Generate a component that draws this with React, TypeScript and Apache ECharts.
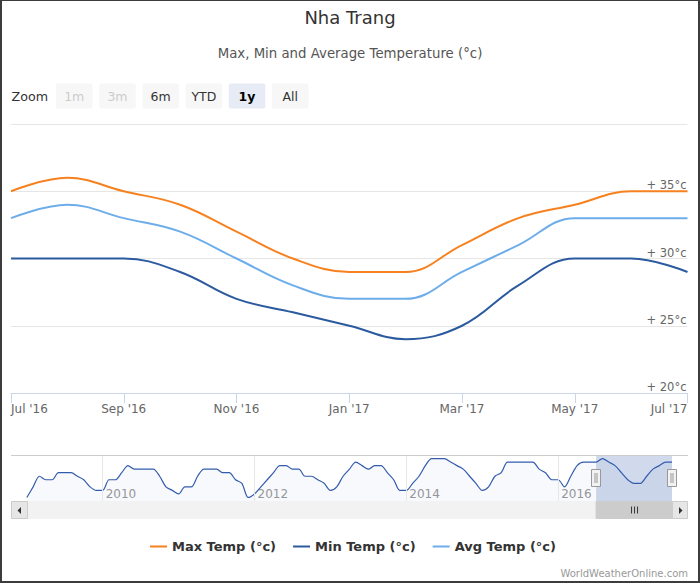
import React, { useEffect, useRef } from 'react';
import * as echarts from 'echarts';

// ---- data ----
const monthLabels = ["Jul '16", "Aug '16", "Sep '16", "Oct '16", "Nov '16", "Dec '16", "Jan '17", "Feb '17", "Mar '17", "Apr '17", "May '17", "Jun '17", "Jul '17"];
const maxTemp = [35, 36, 35, 34, 32, 30, 29, 29, 31, 33, 34, 35, 35];
const minTemp = [30, 30, 30, 29, 27, 26, 25, 24, 25, 28, 30, 30, 29];
const avgTemp = [33, 34, 33, 32, 30, 28, 27, 27, 29, 31, 33, 33, 33];
const yTickValues = [20, 25, 30, 35, 40];

// Navigator (Max Temp history) Jan 2009 .. Jun 2016, monthly
const navHistory = [
  25, 28, 31, 30, 30, 32, 32, 32, 31, 30, 28, 27, // 2009
  27, 30, 30, 32, 34, 33, 33, 33, 33, 31, 28, 27, // 2010
  26, 28, 28, 31, 33, 33, 33, 32, 32, 30, 29, 25, // 2011
  26, 28, 30, 32, 34, 34, 33, 33, 31, 31, 30, 29, // 2012
  27, 28, 31, 33, 35, 34, 33, 34, 34, 32, 30, 27, // 2013
  27, 29, 31, 34, 36, 36, 36, 35, 34, 33, 31, 29, // 2014
  27, 28, 31, 32, 35, 35, 35, 35, 35, 33, 32, 30, // 2015
  30, 28, 31, 34, 35, 35,                         // 2016 Jan-Jun
];
const navYearLabels = ['2010', '2012', '2014', '2016'];
const navYearIndex = [12, 36, 60, 84];
const zoomButtons = ['1m', '3m', '6m', 'YTD', '1y', 'All'];
const seriesNames = ['Max Temp (°c)', 'Min Temp (°c)', 'Avg Temp (°c)'];
const seriesColors = ['#f7801f', '#2b5a9f', '#6dadea'];

const FONT = 'DejaVu Sans';

export default function App() {
  const ref = useRef<HTMLDivElement>(null);

  useEffect(() => {
    document.body.style.margin = '0';
    const chart = echarts.init(ref.current!, null, { renderer: 'svg' });
    const navData = navHistory.concat(maxTemp).map((v, i) => [i, v]);
    const selStart = navHistory.length;
    const selEnd = navData.length - 1;
    const mainData = [maxTemp, minTemp, avgTemp];

    const option: any = {
      animation: false,
      backgroundColor: '#fff',
      textStyle: { fontFamily: FONT },
      title: [
        { text: 'Nha Trang', left: 'center', top: 8, padding: 0, textStyle: { fontFamily: FONT, fontSize: 18, fontWeight: 'normal', color: '#333' } },
        { text: 'Max, Min and Average Temperature (°c)', left: 'center', top: 47, padding: 0, textStyle: { fontFamily: FONT, fontSize: 13.3, fontWeight: 'normal', color: '#555' } },
      ],
      legend: {
        left: 145, top: 535, itemWidth: 17, itemHeight: 2, itemGap: 17, icon: 'rect',
        data: seriesNames,
        textStyle: { fontFamily: FONT, fontSize: 13, fontWeight: 'bold', color: '#333' },
      },
      grid: [
        { left: 11, right: 12.5, top: 124, bottom: 190 },
        { left: 11, right: 28, top: 455, bottom: 82 },
      ],
      xAxis: [
        {
          type: 'value', gridIndex: 0, min: 0, max: monthLabels.length - 1, interval: 2,
          axisLine: { show: true, lineStyle: { color: '#ccd6eb' } },
          axisTick: { show: true, length: 10, lineStyle: { color: '#ccd6eb' } },
          splitLine: { show: false },
          axisLabel: {
            formatter: (v: number) => monthLabels[v] ?? '',
            color: '#666', fontSize: 12, fontFamily: FONT, margin: 10,
            alignMinLabel: 'left', alignMaxLabel: 'right',
          },
        },
        {
          type: 'value', gridIndex: 1, min: -2.5, max: selEnd,
          axisLine: { show: false }, axisTick: { show: false }, splitLine: { show: false },
          axisLabel: {
            inside: true, customValues: navYearIndex,
            formatter: (v: number) => navYearLabels[navYearIndex.indexOf(v)] ?? '',
            color: '#999', fontSize: 12, fontFamily: FONT, align: 'left', padding: [0, 0, 0, 3], margin: 1,
          },
        },
      ],
      yAxis: [
        {
          type: 'value', gridIndex: 0, position: 'right', min: yTickValues[0], max: yTickValues[yTickValues.length - 1], interval: 5,
          axisLine: { show: false }, axisTick: { show: false },
          splitLine: { show: true, lineStyle: { color: '#e6e6e6', width: 1 } },
          axisLabel: {
            inside: true, margin: 1, verticalAlign: 'bottom', showMaxLabel: false,
            formatter: (v: number) => '+ ' + v + '°c',
            color: '#666', fontSize: 11.5, fontFamily: FONT,
          },
        },
        { type: 'value', gridIndex: 1, min: 24, max: 37, show: false },
      ],
      series: [
        ...mainData.map((arr, k) => ({
          name: seriesNames[k], type: 'line', xAxisIndex: 0, yAxisIndex: 0,
          data: arr.map((v, i) => [i, v]), smooth: 0.4, symbol: 'none', showSymbol: false,
          lineStyle: { color: seriesColors[k], width: 2 }, itemStyle: { color: seriesColors[k] },
        })),
        {
          name: 'navigator', type: 'line', xAxisIndex: 1, yAxisIndex: 1, data: navData,
          smooth: 0.3, symbol: 'none', showSymbol: false,
          lineStyle: { color: '#335cad', width: 1.2 }, itemStyle: { color: '#335cad' },
          areaStyle: { color: 'rgba(51,92,173,0.05)', origin: 'start' },
          markLine: {
            silent: true, symbol: 'none', label: { show: false },
            lineStyle: { color: '#e6e6e6', width: 1, type: 'solid' },
            data: navYearIndex.map((v) => ({ xAxis: v })),
          },
          markArea: {
            silent: true, itemStyle: { color: 'rgba(102,133,194,0.3)' },
            data: [[{ xAxis: selStart }, { xAxis: selEnd }]],
          },
        },
      ],
    };
    chart.setOption(option);

    const px0 = chart.convertToPixel({ xAxisIndex: 1 }, selStart) as number;
    const px1 = chart.convertToPixel({ xAxisIndex: 1 }, selEnd) as number;

    const g: any[] = [];
    // range selector
    g.push({ type: 'text', style: { text: 'Zoom', x: 11.5, y: 96, fill: '#333', font: `12.7px "${FONT}"`, textVerticalAlign: 'middle', verticalAlign: 'middle' } });
    zoomButtons.forEach((b, i) => {
      const x = 56 + i * 43.2;
      g.push({ type: 'rect', shape: { x, y: 83.5, width: 36.5, height: 25, r: 2 }, style: { fill: i === 4 ? '#e6ebf5' : '#f7f7f7' } });
      g.push({
        type: 'text', style: {
          text: b, x: x + 18.25, y: 96,
          fill: i < 2 ? '#cccccc' : i === 4 ? '#000' : '#333',
          font: `${i === 4 ? 'bold ' : ''}12.5px "${FONT}"`,
          textAlign: 'center', align: 'center', textVerticalAlign: 'middle', verticalAlign: 'middle',
        },
      });
    });
    // navigator outline
    g.push({ type: 'line', shape: { x1: 11, y1: 455.5, x2: 688, y2: 455.5 }, style: { stroke: '#cccccc', lineWidth: 1 } });
    // scrollbar
    g.push({ type: 'rect', shape: { x: 11, y: 501, width: 677, height: 18 }, style: { fill: '#f2f2f2' } });
    g.push({ type: 'rect', shape: { x: px0, y: 501.5, width: px1 - px0, height: 17 }, style: { fill: '#cccccc', stroke: '#cccccc' } });
    const cx = (px0 + px1) / 2;
    [-3, 0, 3].forEach((d) => g.push({ type: 'line', shape: { x1: cx + d + 0.5, y1: 506.5, x2: cx + d + 0.5, y2: 513.5 }, style: { stroke: '#333', lineWidth: 1 } }));
    g.push({ type: 'rect', shape: { x: 11.5, y: 501.5, width: 16, height: 17 }, style: { fill: '#e6e6e6', stroke: '#cccccc' } });
    g.push({ type: 'polygon', shape: { points: [[21, 507], [21, 514], [17.5, 510.5]] }, style: { fill: '#333' } });
    g.push({ type: 'rect', shape: { x: 672.5, y: 501.5, width: 15, height: 17 }, style: { fill: '#e6e6e6', stroke: '#cccccc' } });
    g.push({ type: 'polygon', shape: { points: [[679, 507], [679, 514], [682.5, 510.5]] }, style: { fill: '#333' } });
    // handles
    [px0, px1].forEach((p) => {
      const x = Math.round(p) - 4.5;
      g.push({ type: 'rect', shape: { x, y: 469.5, width: 9, height: 17 }, style: { fill: '#f2f2f2', stroke: '#999', lineWidth: 1 } });
      g.push({ type: 'line', shape: { x1: x + 3.5, y1: 473, x2: x + 3.5, y2: 483 }, style: { stroke: '#999', lineWidth: 1 } });
      g.push({ type: 'line', shape: { x1: x + 5.5, y1: 473, x2: x + 5.5, y2: 483 }, style: { stroke: '#999', lineWidth: 1 } });
    });
    // credits
    g.push({ type: 'text', style: { text: 'WorldWeatherOnline.com', x: 688, y: 573, fill: '#999', font: `10px "${FONT}"`, textAlign: 'right', align: 'right', textVerticalAlign: 'middle', verticalAlign: 'middle' } });
    // frame border
    const bc = '#3c3c3c';
    g.push({ type: 'rect', shape: { x: 0, y: 0, width: 700, height: 1 }, style: { fill: bc } });
    g.push({ type: 'rect', shape: { x: 0, y: 581, width: 700, height: 2 }, style: { fill: bc } });
    g.push({ type: 'rect', shape: { x: 0, y: 0, width: 2, height: 583 }, style: { fill: bc } });
    g.push({ type: 'rect', shape: { x: 698, y: 0, width: 2, height: 583 }, style: { fill: bc } });

    chart.setOption({ graphic: g.map((e) => ({ ...e, z: 100 })) });

    return () => chart.dispose();
  }, []);

  return <div ref={ref} style={{ position: 'absolute', left: 0, top: 0, width: 700, height: 583 }} />;
}
